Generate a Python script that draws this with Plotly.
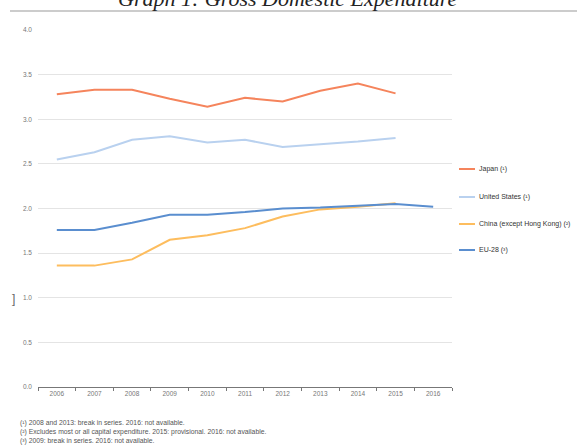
import plotly.graph_objects as go

years = ["2006", "2007", "2008", "2009", "2010", "2011", "2012", "2013", "2014", "2015", "2016"]
japan = [3.28, 3.33, 3.33, 3.23, 3.14, 3.24, 3.20, 3.32, 3.40, 3.29, None]
united_states = [2.55, 2.63, 2.77, 2.81, 2.74, 2.77, 2.69, 2.72, 2.75, 2.79, None]
china = [1.36, 1.36, 1.43, 1.65, 1.70, 1.78, 1.91, 1.99, 2.02, 2.06, None]
eu28 = [1.76, 1.76, 1.84, 1.93, 1.93, 1.96, 2.00, 2.01, 2.03, 2.05, 2.02]

series_names = ["Japan (¹)", "United States (¹)", "China (except Hong Kong) (²)", "EU-28 (³)"]
series_values = [japan, united_states, china, eu28]
series_colors = ["#F5845C", "#B9D1EF", "#FDBD5E", "#5A8ECF"]

footnotes = [
    "(¹) 2008 and 2013: break in series. 2016: not available.",
    "(²) Excludes most or all capital expenditure. 2015: provisional. 2016: not available.",
    "(³) 2009: break in series. 2016: not available.",
]
title_text = "Graph 1: Gross Domestic Expenditure"

W, H = 577, 445
ML, MR, MT, MB = 38, 125, 30, 58
PW, PH = W - ML - MR, H - MT - MB


def px_x(px):
    return (px - ML) / PW


def px_y(py):
    return (H - MB - py) / PH


fig = go.Figure()
for name, vals, col in zip(series_names, series_values, series_colors):
    fig.add_trace(go.Scatter(x=years, y=vals, mode="lines", name=name,
                             line=dict(color=col, width=2), showlegend=False))

annotations = []
shapes = []
# manual legend
legend_y = [169, 197, 224, 250]
for name, col, ly in zip(series_names, series_colors, legend_y):
    shapes.append(dict(type="line", xref="paper", yref="paper",
                       x0=px_x(459), x1=px_x(475), y0=px_y(ly), y1=px_y(ly),
                       line=dict(color=col, width=2)))
    annotations.append(dict(text=name, xref="paper", yref="paper", x=px_x(477), y=px_y(ly),
                            xanchor="left", yanchor="middle", showarrow=False,
                            font=dict(size=7, color="#333333", family="Liberation Sans")))

for i, fn in enumerate(footnotes):
    annotations.append(dict(text=fn, xref="paper", yref="paper", x=px_x(18), y=px_y(423 + 9 * i),
                            xanchor="left", yanchor="middle", showarrow=False,
                            font=dict(size=6.8, color="#555555", family="Liberation Sans")))

# title (partially cropped at top, as in the reference)
annotations.append(dict(text="<i>" + title_text + "</i>", xref="paper", yref="paper",
                        x=px_x(288), y=px_y(13), xanchor="center", yanchor="bottom",
                        showarrow=False,
                        font=dict(size=22, color="#222222", family="Liberation Serif")))
# stray bracket
annotations.append(dict(text="]", xref="paper", yref="paper", x=px_x(13), y=px_y(299),
                        xanchor="center", yanchor="middle", showarrow=False,
                        font=dict(size=12, color="#666666", family="Liberation Sans")))

# line under title
shapes.append(dict(type="line", xref="paper", yref="paper", x0=px_x(10), x1=px_x(577),
                   y0=px_y(11), y1=px_y(11), line=dict(color="#bbbbbb", width=1.5)))

fig.update_layout(
    width=W, height=H,
    margin=dict(l=ML, r=MR, t=MT, b=MB),
    paper_bgcolor="white", plot_bgcolor="white",
    annotations=annotations, shapes=shapes,
    showlegend=False,
)
fig.update_xaxes(type="category", range=[-0.5, 10.5], tickson="boundaries",
                 ticks="outside", ticklen=3, tickcolor="#777777",
                 showline=True, linecolor="#777777", linewidth=1,
                 showgrid=False, tickfont=dict(size=6.5, color="#777777", family="Liberation Sans"))
fig.update_yaxes(range=[0, 4], dtick=0.5, tickformat=".1f", showgrid=True,
                 gridcolor="#e4e4e4", gridwidth=1, zeroline=False,
                 ticks="", ticklabelstandoff=5,
                 tickfont=dict(size=6.5, color="#777777", family="Liberation Sans"))

fig.write_html("out.html")
